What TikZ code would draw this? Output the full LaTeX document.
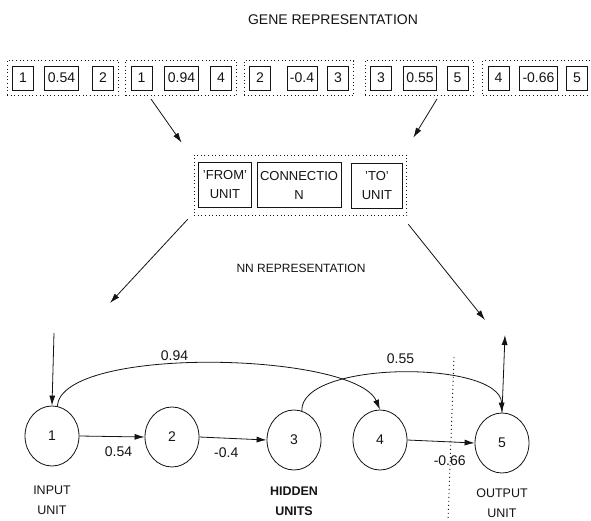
\documentclass[tikz,border=0pt]{standalone}
\usepackage{fontspec}
\setmainfont{Liberation Sans}
\usetikzlibrary{arrows.meta,calc,fit,positioning,shapes.geometric}
\definecolor{gnink}{HTML}{141414}
\definecolor{gnpage}{HTML}{FFFFFF}
\tikzset{
  gnbox/.style={
    draw=gnink,
    line width=0.8pt,
    minimum width=21pt,
    minimum height=24pt,
    inner xsep=3pt,
    inner ysep=2pt,
    font=\fontsize{14}{16}\selectfont,
    text=gnink
  },
  gngroup/.style={
    draw=gnink,
    line width=0.9pt,
    dash pattern=on 1pt off 2.6pt,
    inner xsep=5pt,
    inner ysep=5pt
  },
  gnfield/.style={
    gnbox,
    align=center,
    minimum height=45pt,
    font=\fontsize{13}{19}\selectfont
  },
  gnneuron/.style={
    ellipse,
    draw=gnink,
    line width=0.8pt,
    minimum width=54pt,
    minimum height=60pt,
    font=\fontsize{14}{16}\selectfont,
    text=gnink
  },
  gnedge/.style={
    -{Latex[length=10pt,width=6pt]},
    line width=0.8pt,
    color=gnink
  },
  gnweight/.style={
    font=\fontsize{14}{16}\selectfont,
    text=gnink
  },
  gnlabel/.style={
    font=\fontsize{12.5}{20}\selectfont,
    align=center,
    text=gnink
  },
  gntitle/.style={
    font=\fontsize{14}{16}\selectfont,
    text=gnink
  },
  gnsplit/.style={
    line width=0.9pt,
    dash pattern=on 1pt off 3pt,
    color=gnink
  }
}

\begin{document}
\begin{tikzpicture}[x=1pt,y=-1pt]
  \useasboundingbox (0,0) rectangle (591,521);
  \fill[gnpage] (0,0) rectangle (591,521);

  \node[gntitle] (genetitle) at (333,20) {GENE REPRESENTATION};

  % genes: from unit, weight, to unit
  \node[gnbox] (g1a) at (23,78) {1};
  \node[gnbox] (g1b) at (61.5,78) {0.54};
  \node[gnbox] (g1c) at (103,78) {2};
  \node[gngroup, fit=(g1a)(g1c)] (g1) {};

  \node[gnbox] (g2a) at (141.5,78) {1};
  \node[gnbox] (g2b) at (181.5,78) {0.94};
  \node[gnbox] (g2c) at (221,78) {4};
  \node[gngroup, fit=(g2a)(g2c)] (g2) {};

  \node[gnbox] (g3a) at (260,78) {2};
  \node[gnbox] (g3b) at (302,78) {-0.4};
  \node[gnbox] (g3c) at (338,78) {3};
  \node[gngroup, fit=(g3a)(g3c)] (g3) {};

  \node[gnbox] (g4a) at (381,78) {3};
  \node[gnbox] (g4b) at (420,78) {0.55};
  \node[gnbox] (g4c) at (457.5,78) {5};
  \node[gngroup, fit=(g4a)(g4c)] (g4) {};

  \node[gnbox] (g5a) at (498.5,78) {4};
  \node[gnbox] (g5b) at (538.5,78) {-0.66};
  \node[gnbox] (g5c) at (577,78) {5};
  \node[gngroup, fit=(g5a)(g5c)] (g5) {};

  % one gene
  \node[gnfield, minimum width=53pt] (from) at (225,185) {'FROM'\\UNIT};
  \node[gnfield, minimum width=83pt] (conn) at (299,185) {CONNECTIO\\N};
  \node[gnfield, minimum width=51pt] (to) at (377,186) {'TO'\\UNIT};
  \node[gngroup, inner xsep=4pt, inner ysep=7pt, fit=(from)(conn)(to)] (field) {};

  \node[gntitle, font=\fontsize{12}{14}\selectfont] (nntitle) at (301,268) {NN REPRESENTATION};

  \coordinate (mapl) at (151,99);
  \coordinate (mapr) at (437,99);
  \coordinate (downl) at (110,303);
  \coordinate (downr) at (485,320);
  \draw[gnedge] (mapl) -- ($(field.north west)+(-12,-12)$);
  \draw[gnedge] (mapr) -- ($(field.north east)+(6,-17)$);
  \draw[gnedge] ($(field.south west)+(-6,3)$) -- (downl);
  \draw[gnedge] ($(field.south east)+(1,8)$) -- (downr);

  % network
  \node[gnneuron] (n1) at (52,436) {1};
  \node[gnneuron] (n2) at (172,437) {2};
  \node[gnneuron] (n3) at (294,440) {3};
  \node[gnneuron] (n4) at (380,440) {4};
  \node[gnneuron] (n5) at (502,443) {5};

  \coordinate (inp) at (54,333);
  \coordinate (outp) at (505,335);
  \draw[gnedge] (inp) -- (n1.north);
  \draw[gnedge] (n5.north) -- (outp);

  \draw[gnedge] (n1.east) -- node[gnweight, pos=0.6, below=6pt] {0.54} (n2.west);
  \draw[gnedge] (n2.east) -- node[gnweight, pos=0.4, below=6pt] {-0.4} (n3.west);
  \draw[gnedge] (n4.east) -- node[gnweight, pos=0.63, below=10pt] {-0.66} (n5.west);
  \draw[gnedge] (n1.80) .. controls (62,345) and (355,352) .. node[gnweight, pos=0.42, above] {0.94} (n4.north);
  \draw[gnedge] (n3.75) .. controls (300,360) and (500,360) .. node[gnweight, pos=0.5, above=6pt] {0.55} (n5.north);

  \coordinate (splittop) at (454,357);
  \coordinate (splitbot) at (448,521);
  \draw[gnsplit] (splittop) -- (splitbot);

  \node[gnlabel, below=16pt of n1] (inlabel) {INPUT\\UNIT};
  \node[gnlabel, font=\fontsize{12.5}{20}\selectfont\bfseries, below=13pt of n3] (hidlabel) {HIDDEN\\UNITS};
  \node[gnlabel, below=12pt of n5] (outlabel) {OUTPUT\\UNIT};
\end{tikzpicture}
\end{document}
